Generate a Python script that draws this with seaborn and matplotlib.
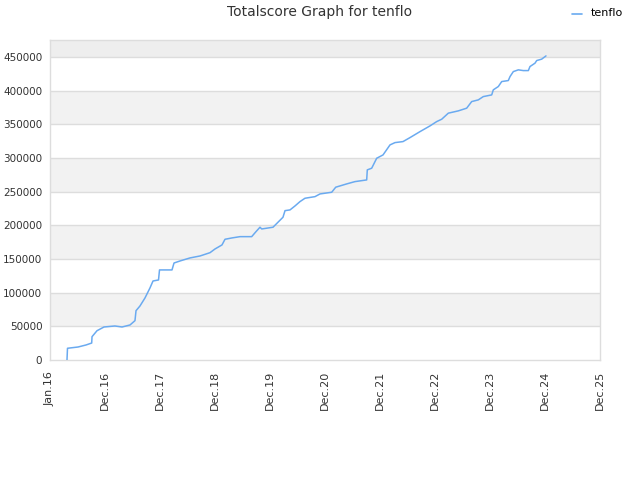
import matplotlib
matplotlib.use("Agg")
import matplotlib.pyplot as plt
import seaborn as sns
import pandas as pd

# time in years since Jan 2016 (tick i = i-th label)
t = [0.309, 0.318, 0.51, 0.655, 0.758, 0.764, 0.855, 0.982, 1.18, 1.31, 1.455, 1.545,
     1.564, 1.636, 1.727, 1.818, 1.873, 1.973, 1.991, 2.218, 2.255, 2.364, 2.545, 2.727,
     2.909, 3.0, 3.127, 3.182, 3.309, 3.455, 3.667, 3.745, 3.818, 3.849, 4.055, 4.127,
     4.236, 4.273, 4.364, 4.455, 4.545, 4.636, 4.818, 4.909, 5.122, 5.195, 5.395, 5.545,
     5.758, 5.769, 5.849, 5.94, 6.055, 6.182, 6.273, 6.418, 6.545, 6.727, 6.909, 7.031,
     7.122, 7.242, 7.424, 7.576, 7.667, 7.787, 7.878, 8.031, 8.06, 8.151, 8.213, 8.333,
     8.364, 8.424, 8.515, 8.606, 8.697, 8.727, 8.818, 8.849, 8.94, 9.018]
score = [0, 17400, 19300, 22300, 25200, 34600, 43500, 49000, 50500, 49000, 52000, 58400,
         73200, 80200, 92100, 107000, 117300, 118800, 133700, 133700, 144000, 147000, 151500, 154400,
         159300, 164800, 170800, 179200, 181200, 183100, 183100, 190500, 197100, 194500, 197100, 203000,
         211900, 221700, 222800, 228700, 235100, 240100, 242500, 246500, 249000, 256500, 261400, 264800,
         267300, 282200, 284700, 299500, 304400, 319300, 322700, 324200, 330100, 339000, 347500, 353900,
         357400, 366400, 369800, 373800, 383600, 386100, 391000, 393500, 401000, 405900, 413300, 414800,
         420700, 428100, 430700, 429600, 429600, 435600, 440600, 444500, 446600, 451400]
x_labels = ["Jan.16", "Dec.16", "Dec.17", "Dec.18", "Dec.19", "Dec.20", "Dec.21",
            "Dec.22", "Dec.23", "Dec.24", "Dec.25"]
y_ticks = [0, 50000, 100000, 150000, 200000, 250000, 300000, 350000, 400000, 450000]
series_name = "tenflo"

df = pd.DataFrame({"t": t, "score": score, "who": series_name})

sns.set_style("white")
plt.rcParams["font.family"] = ["DejaVu Sans"]

fig = plt.figure(figsize=(6.4, 4.8), dpi=100)
ax = fig.add_axes([50/640, 120/480, 550/640, 320/480])

ymax = 475000
# alternating bands
for i in range(0, 10):
    lo = i * 50000
    hi = min(lo + 50000, ymax)
    if i % 2 == 1:
        ax.axhspan(lo, hi, color="#f2f2f2", zorder=0, lw=0)
ax.axhspan(450000, ymax, color="#eeeeee", zorder=0, lw=0)
for y in y_ticks[1:]:
    ax.axhline(y, color="#dddddd", lw=1, zorder=1)

line_color = "#6aaaf0"
sns.lineplot(data=df, x="t", y="score", ax=ax, color=line_color, lw=1.1,
             legend=False, zorder=3)

ax.set_xlim(0, 10)
ax.set_ylim(0, ymax)
ax.set_xticks(range(11))
ax.set_xticklabels(x_labels, rotation=90, fontsize=8, color="#333333")
ax.set_yticks(y_ticks)
ax.set_yticklabels([str(v) for v in y_ticks], fontsize=7.5, color="#333333")
ax.tick_params(axis="y", length=0, pad=5.5)
ax.tick_params(axis="x", length=0, pad=8)
ax.set_xlabel("")
ax.set_ylabel("")
for s in ax.spines.values():
    s.set_color("#dddddd")
    s.set_linewidth(1)

fig.text(0.5, 1 - 12/480, "Totalscore Graph for tenflo", ha="center", va="center",
         fontsize=10, color="#333333")
fig.lines.append(plt.Line2D([572/640, 582/640], [1 - 14/480, 1 - 14/480],
                            transform=fig.transFigure, color=line_color, lw=1.2))
fig.text(591/640, 1 - 13/480, series_name, ha="left", va="center", fontsize=8, color="#000000")

fig.savefig("out.png", dpi=100)
